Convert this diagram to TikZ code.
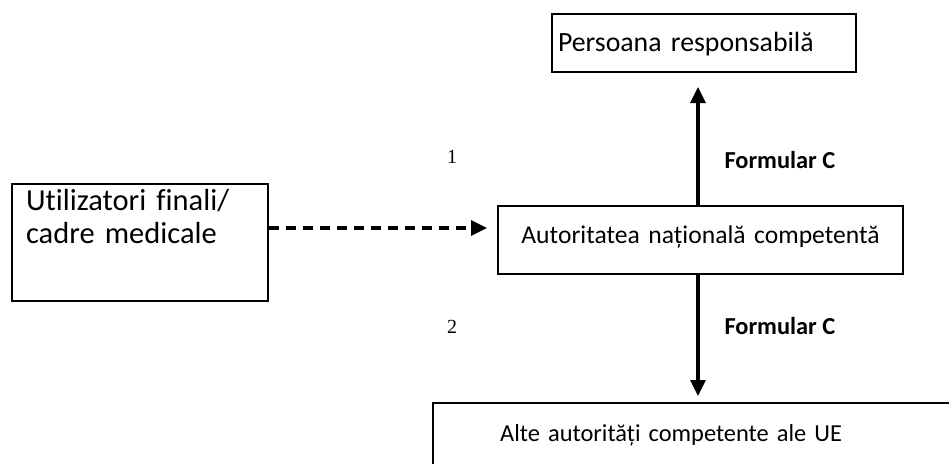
\documentclass[tikz,border=0pt]{standalone}
\usepackage{fontspec}
\setmainfont{Carlito}[Ligatures=NoCommon]
\newfontfamily\numfont{Liberation Serif}
\usetikzlibrary{arrows.meta}
\begin{document}
\begin{tikzpicture}[x=1pt,y=-1pt,
  box/.style={draw, line width=2pt, inner ysep=0pt, anchor=north west},
  edge/.style={line width=2pt},
  conn/.style={line width=3.2pt, -{Triangle[width=15pt,length=16pt]}},
  lbl/.style={font=\fontsize{24.4}{30}\selectfont\bfseries, anchor=west},
  num/.style={font=\numfont\fontsize{20}{22}\selectfont}]
\useasboundingbox (0,0) rectangle (949,464);
\node[box, font=\fontsize{27.8}{33}\selectfont, text width=292pt, inner xsep=6pt, align=left, text height=37pt, text depth=21pt] (resp) at (551,13) {Persoana responsabilă};
\node[box, font=\fontsize{30.5}{33}\selectfont, text width=228pt, inner xsep=14pt, align=left, text height=26pt, text depth=91pt] (users) at (11,183) {Utilizatori finali/\\cadre medicale};
\node[box, font=\fontsize{25.6}{33}\selectfont, text width=405pt, inner xsep=0pt, align=center, text height=37pt, text depth=31pt] (auth) at (497,205) {Autoritatea națională competentă};
\node[anchor=north west, inner ysep=0pt, font=\fontsize{24.4}{33}\selectfont, text width=382pt, inner xsep=67pt, align=left, text height=38pt, text depth=23pt] (alte) at (433,403) {Alte autorități competente ale UE};
\coordinate (edgeend) at (949,403);
\draw[edge] (alte.south west) -- (alte.north west) -- (edgeend);
\coordinate (ax) at (698,0);
\coordinate (dy) at (0,228);
\draw[conn, shorten >=14pt] (auth.north -| ax) -- (resp.south -| ax);
\draw[conn, shorten >=7pt] (auth.south -| ax) -- (alte.north -| ax);
\draw[conn, dash pattern=on 10pt off 7pt, shorten >=10pt] (users.east |- dy) -- (auth.west |- dy);
\node[num] (n1) at (452,157) {1};
\node[lbl] (f1) at (721,160) {Formular C};
\node[num] (n2) at (452,327) {2};
\node[lbl] (f2) at (721,326) {Formular C};
\end{tikzpicture}
\end{document}
